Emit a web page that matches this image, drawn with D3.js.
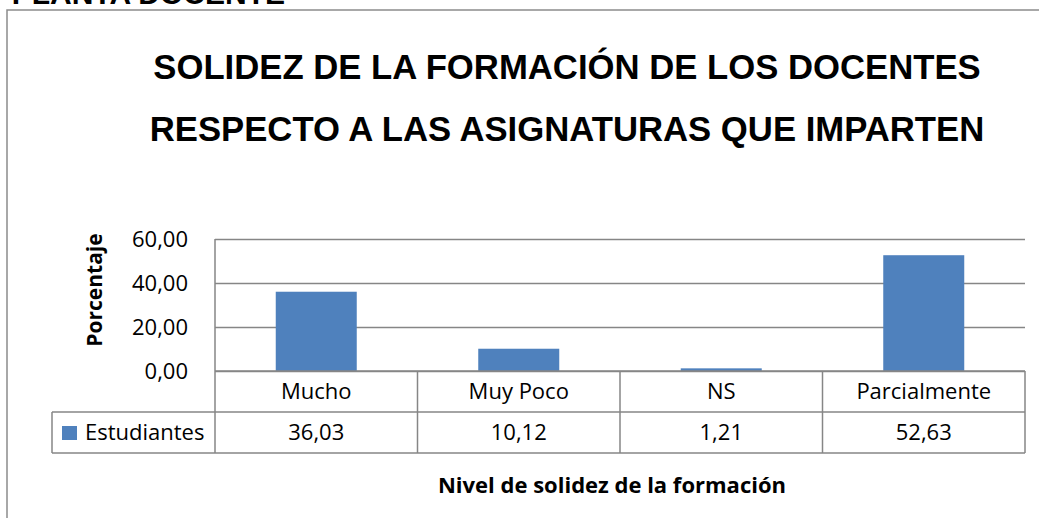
<!DOCTYPE html>
<html lang="es">
<head>
  <meta charset="UTF-8">
  <title>solidez de la formación</title>
  <style>
    body {
      margin: 0;
      background: #fff;
      overflow: hidden;
    }
  </style>
</head>
<body>
  <div class="chart"></div>
  <script src="https://cdnjs.cloudflare.com/ajax/libs/d3/7.8.5/d3.min.js"></script>
  <script>
    const categories = ['Mucho', 'Muy Poco', 'NS', 'Parcialmente'];
    const estudiantes = [36.03, 10.12, 1.21, 52.63];
    const seriesName = 'Estudiantes';
    const yTicks = [0, 20, 40, 60];
    const titleLines = [
      'SOLIDEZ DE LA FORMACIÓN DE LOS DOCENTES',
      'RESPECTO A LAS ASIGNATURAS QUE IMPARTEN'
    ];
    const yLabel = 'Porcentaje';
    const xLabel = 'Nivel de solidez de la formación';
    const headingAbove = 'PLANTA DOCENTE';

    const width = 1039;
    const height = 518;
    const plot = { left: 215, right: 1025, top: 239, bottom: 371 };
    const rowH = 41;
    const legendLeft = 52;
    const gridColor = '#868686';
    const barColor = '#4f81bd';
    const bodyFont = '"Open Sans", "Noto Sans", sans-serif';

    const es = d3.formatLocale({ decimal: ',', thousands: '.', grouping: [3], currency: ['', ''] });
    const fmt = es.format('.2f');

    const x = d3.scaleBand()
      .domain(categories)
      .range([plot.left, plot.right]);

    const y = d3.scaleLinear()
      .domain([0, d3.max(yTicks)])
      .range([plot.bottom, plot.top]);

    const svg = d3.select('.chart')
      .append('svg')
      .attr('width', width)
      .attr('height', height);

    // heading of the page above the chart, cut by the top edge
    svg.append('text')
      .attr('x', 285)
      .attr('y', 4)
      .attr('text-anchor', 'end')
      .style('font', 'bold 30px "Liberation Sans", Arial, sans-serif')
      .text(headingAbove);

    // chart frame
    svg.append('path')
      .attr('d', `M7,${height} V10 H${width}`)
      .attr('fill', 'none')
      .attr('stroke', '#8c8c8c')
      .attr('stroke-width', 1.5);

    svg.selectAll('.title')
      .data(titleLines)
      .join('text')
      .attr('class', 'title')
      .attr('x', 567)
      .attr('y', (d, i) => 79 + i * 62)
      .attr('text-anchor', 'middle')
      .style('font', 'bold 34.7px "Liberation Sans", Arial, sans-serif')
      .text(d => d);

    // gridlines + tick labels
    const yAxis = svg.append('g')
      .attr('transform', `translate(${plot.left},0)`)
      .call(d3.axisLeft(y)
        .tickValues(yTicks)
        .tickSize(-(plot.right - plot.left))
        .tickPadding(27)
        .tickFormat(fmt));
    yAxis.select('.domain').remove();
    yAxis.selectAll('line')
      .attr('stroke', gridColor)
      .attr('stroke-width', 1.5);
    yAxis.selectAll('text')
      .style('font-family', bodyFont)
      .style('font-size', '22px')
      .attr('fill', '#000');

    svg.selectAll('.bar')
      .data(estudiantes)
      .join('rect')
      .attr('class', 'bar')
      .attr('x', (d, i) => x(categories[i]) + x.bandwidth() * 0.3)
      .attr('width', x.bandwidth() * 0.4)
      .attr('y', d => y(d))
      .attr('height', d => y(0) - y(d))
      .attr('fill', barColor);

    // data table under the axis
    const table = svg.append('g')
      .attr('stroke', gridColor)
      .attr('stroke-width', 1.5)
      .attr('fill', 'none');
    const row1 = plot.bottom + rowH;
    const row2 = plot.bottom + rowH * 2;
    table.append('line')
      .attr('x1', plot.left).attr('x2', plot.right)
      .attr('y1', y(0)).attr('y2', y(0));
    table.append('line')
      .attr('x1', legendLeft).attr('x2', plot.right)
      .attr('y1', row1).attr('y2', row1);
    table.append('line')
      .attr('x1', legendLeft).attr('x2', plot.right)
      .attr('y1', row2).attr('y2', row2);
    table.append('line')
      .attr('x1', legendLeft).attr('x2', legendLeft)
      .attr('y1', row1).attr('y2', row2);
    table.append('line')
      .attr('x1', plot.left).attr('x2', plot.left)
      .attr('y1', plot.top).attr('y2', row2);
    table.selectAll('.col')
      .data(categories)
      .join('line')
      .attr('x1', d => x(d) + x.bandwidth()).attr('x2', d => x(d) + x.bandwidth())
      .attr('y1', plot.bottom).attr('y2', row2);

    const cellText = svg.append('g')
      .attr('text-anchor', 'middle')
      .style('font-family', bodyFont)
      .style('font-size', '22px');
    cellText.selectAll('.cat')
      .data(categories)
      .join('text')
      .attr('x', d => x(d) + x.bandwidth() / 2)
      .attr('y', plot.bottom + rowH / 2)
      .attr('dy', '0.35em')
      .text(d => d);
    cellText.selectAll('.val')
      .data(estudiantes)
      .join('text')
      .attr('x', (d, i) => x(categories[i]) + x.bandwidth() / 2)
      .attr('y', row1 + rowH / 2)
      .attr('dy', '0.35em')
      .text(d => fmt(d));

    // legend key in the first column
    svg.append('rect')
      .attr('x', 62)
      .attr('y', 426)
      .attr('width', 15)
      .attr('height', 14)
      .attr('fill', barColor);
    svg.append('text')
      .attr('x', 85)
      .attr('y', row1 + rowH / 2)
      .attr('dy', '0.35em')
      .style('font-family', bodyFont)
      .style('font-size', '22px')
      .text(seriesName);

    svg.append('text')
      .attr('transform', `translate(102,${(plot.top + plot.bottom) / 2 - 15}) rotate(-90)`)
      .attr('text-anchor', 'middle')
      .style('font', `bold 21px ${bodyFont}`)
      .text(yLabel);

    svg.append('text')
      .attr('x', 612)
      .attr('y', 493)
      .attr('text-anchor', 'middle')
      .style('font', `bold 22px ${bodyFont}`)
      .text(xLabel);
  </script>
</body>
</html>
